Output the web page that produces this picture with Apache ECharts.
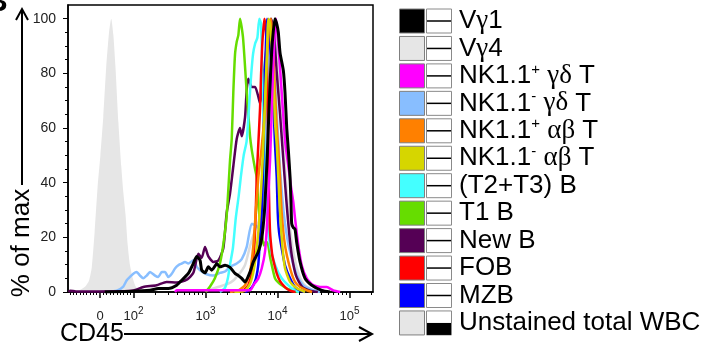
<!DOCTYPE html>
<html>
<head>
<meta charset="utf-8">
<script src="https://cdn.jsdelivr.net/npm/echarts@6/dist/echarts.min.js"></script>
<style>
html,body{margin:0;padding:0;background:#fff;}
#chart{width:705px;height:348px;}
</style>
</head>
<body>
<div id="chart"></div>
<script>
// ---- Data (x in displayed biexponential decade units: 2 = 10^2, 3 = 10^3 ...; y = % of max) ----
const seriesNames = ['Vγ1','Vγ4','NK1.1+ γδ T','NK1.1- γδ T','NK1.1+ αβ T','NK1.1- αβ T','(T2+T3) B','T1 B','New B','FOB','MZB','Unstained total WBC'];
const seriesColors = ['#000000','#dcdcdc','#ff00ff','#88beff','#ff8000','#d6d600','#44ffff','#66dd00','#550055','#ff0000','#0000ff','#e6e6e6'];
const legendLabels = ['V{g|γ}1','V{g|γ}4','NK1.1{sup|+} {g|γδ} T','NK1.1{sup|-} {g|γδ} T','NK1.1{sup|+} {g|αβ} T','NK1.1{sup|-} {g|αβ} T','(T2+T3) B','T1 B','New B','FOB','MZB','Unstained total WBC'];

const xTickValues = [1.535, 2, 3, 4, 5];
const xTickLabels = ['0', '10{s|2}', '10{s|3}', '10{s|4}', '10{s|5}'];
const yTickValues = [0, 20, 40, 60, 80, 100];

const dataVg1 = [[1.60,0],[1.95,0.2],[2.229,0.6],[2.344,1.3],[2.483,1.3],[2.60,2.5],[2.669,4.3],[2.761,6.8],[2.831,10.5],[2.878,13],[2.924,11.6],[2.947,8],[2.993,7],[3.039,9.2],[3.086,8],[3.132,9.5],[3.156,10.4],[3.201,9.2],[3.271,9.8],[3.34,9],[3.41,6.8],[3.456,6],[3.503,5],[3.549,3.7],[3.618,7.3],[3.664,11],[3.733,14.7],[3.781,19.7],[3.817,29],[3.84,40],[3.86,52],[3.875,62],[3.896,76],[3.919,88],[3.94,95],[3.965,100],[3.99,98],[4.011,95],[4.035,87.5],[4.081,81],[4.104,73],[4.128,60],[4.150,52],[4.174,42],[4.188,32],[4.197,25],[4.22,23.5],[4.243,23],[4.267,18],[4.313,11],[4.382,5],[4.475,2.5],[4.614,0.6],[4.73,0]];
const dataVg4 = [[3.0,0.5],[3.2,2],[3.35,3.5],[3.45,6],[3.55,10],[3.62,17],[3.68,22],[3.74,26],[3.79,35],[3.84,60],[3.88,85],[3.92,97],[3.96,100],[3.99,92],[4.03,75],[4.08,55],[4.13,36],[4.18,22],[4.23,13],[4.29,7],[4.36,3],[4.45,1.2],[4.58,0]];
const dataNKpGD = [[2.576,0],[2.60,0.6],[3.618,0.6],[3.664,2.5],[3.733,5],[3.781,8.7],[3.826,14.7],[3.850,23],[3.872,35],[3.896,48],[3.924,70],[3.951,90],[3.979,100],[4.007,92],[4.035,82],[4.076,66],[4.11,54],[4.15,46],[4.19,38],[4.219,33],[4.243,27],[4.289,17],[4.336,9.8],[4.406,5],[4.497,2.5],[4.614,1.8],[4.683,1.8],[4.775,0.6],[4.87,0]];
const dataNKnGD = [[1.628,0],[1.767,0.5],[1.858,2],[1.906,4.3],[1.951,5.5],[1.997,6.7],[2.044,7.3],[2.090,6],[2.136,5],[2.183,6],[2.229,7.3],[2.299,6],[2.344,5.5],[2.392,7.3],[2.4375,7.3],[2.483,5.5],[2.531,6.7],[2.576,8.6],[2.622,9.8],[2.669,10.4],[2.715,11],[2.761,10.4],[2.831,11.6],[2.878,9.2],[2.924,8],[3.017,6.5],[3.108,6],[3.201,7],[3.271,7.5],[3.34,9.2],[3.433,10.4],[3.503,12],[3.572,16.5],[3.642,25],[3.711,24],[3.757,23],[3.798,35],[3.84,60],[3.872,85],[3.896,100],[3.938,90],[3.979,70],[4.035,45],[4.09,28],[4.146,18],[4.201,12],[4.271,6],[4.354,2.5],[4.479,0.8],[4.59,0]];
const dataNKpAB = [[3.34,0],[3.456,0.6],[3.549,2.5],[3.618,7.3],[3.664,17],[3.697,29],[3.733,41.7],[3.78,53],[3.826,67],[3.854,85],[3.882,97],[3.910,100],[3.938,90],[3.965,73],[3.989,60.5],[4.011,52],[4.035,41.7],[4.058,29],[4.104,17],[4.174,8.7],[4.243,3.7],[4.313,1.8],[4.406,0.6],[4.48,0]];
const dataNKnAB = [[3.40,0],[3.549,0.5],[3.618,3],[3.67,8],[3.71,16],[3.743,25],[3.781,42],[3.803,54],[3.826,70],[3.85,85],[3.872,100],[3.896,98],[3.924,88],[3.942,79],[3.965,62],[3.989,54],[4.011,42],[4.035,29],[4.067,17],[4.104,8.7],[4.174,3.7],[4.267,1.4],[4.382,0]];
const dataT2T3B = [[3.20,0],[3.27,1.5],[3.31,5],[3.34,10],[3.38,16],[3.42,27],[3.46,35],[3.49,42],[3.53,50],[3.57,55],[3.60,66],[3.63,78],[3.66,87],[3.69,91],[3.72,93],[3.747,100],[3.771,98],[3.789,80],[3.803,66],[3.817,52],[3.826,42],[3.85,29],[3.896,17],[3.965,10],[4.058,5],[4.197,1.4],[4.30,0]];
const dataT1B = [[3.00,0],[3.063,2],[3.13,5],[3.201,10.5],[3.25,18],[3.294,28],[3.34,48],[3.364,56],[3.386,73],[3.41,87],[3.433,91.5],[3.456,94],[3.479,100],[3.521,93],[3.572,73],[3.618,57],[3.642,52],[3.688,45],[3.711,42],[3.733,32],[3.76,25],[3.781,21],[3.81,17],[3.84,18.5],[3.868,17.5],[3.895,13],[3.919,10],[3.965,5],[4.01,3.5],[4.058,2.5],[4.13,1.2],[4.197,0.6],[4.28,0]];
const dataNewB = [[1.10,0],[1.118,0.5],[1.20,0.2],[1.81,0.3],[2.00,0.6],[2.136,1.8],[2.32,2.5],[2.46,3.7],[2.60,3.5],[2.74,4.5],[2.831,7],[2.90,14],[2.947,12.5],[2.993,16.5],[3.039,13],[3.108,11],[3.178,11.5],[3.247,16],[3.294,29],[3.34,36],[3.386,46],[3.433,56],[3.479,60],[3.503,57],[3.549,64],[3.572,74],[3.594,78],[3.642,75],[3.688,75],[3.733,71.5],[3.757,69],[3.79,75],[3.83,85],[3.87,95],[3.91,100],[3.95,95],[3.99,80],[4.035,65],[4.076,50],[4.118,35],[4.16,22],[4.20,13],[4.257,6],[4.34,2],[4.45,0.5],[4.56,0]];
const dataFOB = [[3.50,0],[3.525,0.6],[3.594,2.5],[3.642,7.3],[3.678,17],[3.697,29],[3.711,41.7],[3.733,54],[3.757,67],[3.771,79],[3.789,91],[3.817,100],[3.84,95],[3.854,82],[3.868,60],[3.88,38],[3.896,22],[3.924,14],[3.942,11.6],[3.989,6.8],[4.035,4],[4.104,1.8],[4.174,0.5],[4.25,0]];
const dataMZB = [[3.549,0],[3.618,1],[3.664,2.5],[3.701,5],[3.733,10],[3.757,20],[3.781,30],[3.799,45],[3.817,70],[3.833,85],[3.854,100],[3.882,95],[3.910,85],[3.938,72],[3.965,54],[3.989,42],[4.003,29],[4.021,22],[4.058,16],[4.104,9.8],[4.174,5],[4.243,1.8],[4.313,0.6],[4.382,0]];
const dataUnstained = [[1.20,0],[1.26,0.8],[1.33,2],[1.38,4],[1.42,9],[1.46,22],[1.50,38],[1.54,50],[1.58,64],[1.62,82],[1.66,95],[1.69,100],[1.72,94],[1.75,82],[1.79,62],[1.83,46],[1.86,36],[1.89,28],[1.92,17],[1.95,10],[1.99,5],[2.03,2],[2.08,0.5],[2.12,0]];

const seriesData = [dataVg1, dataVg4, dataNKpGD, dataNKnGD, dataNKpAB, dataNKnAB, dataT2T3B, dataT1B, dataNewB, dataFOB, dataMZB, dataUnstained];
// drawing order (bottom -> top), by index into the arrays above
const drawOrder = [11, 1, 3, 8, 7, 6, 9, 10, 4, 5, 2, 0];

// ---- axis decoration (minor tick positions) ----
const xMinor = [];
for (let k = 1; k <= 9; k++) { xMinor.push(1.535 - 0.0465 * k); xMinor.push(1.535 + 0.0465 * k); }
for (let d = 2; d <= 5; d++) { for (let k = 2; k <= 9; k++) { const v = d + Math.log10(k); if (v < 5.32) xMinor.push(v); } }
const yMinor = [];
for (let v = 5; v < 100; v += 5) { if (v % 20 !== 0) yMinor.push(v); }

const FONT = "'Liberation Sans', Arial, Helvetica, sans-serif";
const SERIF = "'Liberation Serif', 'DejaVu Serif', serif";

const chart = echarts.init(document.getElementById('chart'), null, {renderer: 'canvas'});

const series = drawOrder.map(function (i) {
  const isUnst = i === 11;
  return {
    name: seriesNames[i],
    type: 'line',
    data: seriesData[i],
    xAxisIndex: 0, yAxisIndex: 0,
    showSymbol: false, symbol: 'none',
    smooth: 0.2,
    silent: true,
    lineStyle: {color: seriesColors[i], width: isUnst ? 0 : (i === 0 ? 3 : 2.5), join: 'round'},
    areaStyle: isUnst ? {color: seriesColors[i], opacity: 1} : undefined,
    z: 2
  };
});

// ---- legend graphics ----
const legendChildren = [];
const rowY0 = 21, rowPitch = 27.45;
for (let i = 0; i < seriesNames.length; i++) {
  const cy = rowY0 + rowPitch * i;
  legendChildren.push({type: 'rect', shape: {x: 399.5, y: cy - 12, width: 25, height: 24}, style: {fill: seriesColors[i] === '#dcdcdc' ? '#e6e6e6' : seriesColors[i], stroke: '#7f7f7f', lineWidth: 1}});
  legendChildren.push({type: 'rect', shape: {x: 426.5, y: cy - 12, width: 25, height: 24}, style: {fill: '#fff', stroke: '#8a8a8a', lineWidth: 1}});
  if (i === 11) {
    legendChildren.push({type: 'rect', shape: {x: 427, y: cy, width: 24, height: 12}, style: {fill: '#000'}});
  } else {
    legendChildren.push({type: 'line', shape: {x1: 427, y1: cy, x2: 451, y2: cy}, style: {stroke: '#000', lineWidth: 1.5}});
  }
  legendChildren.push({
    type: 'text', x: 459, y: cy,
    style: {
      text: legendLabels[i], fill: '#000', fontSize: 26, fontFamily: FONT, lineHeight: 28,
      align: 'left', verticalAlign: 'middle',
      rich: {
        g: {fontFamily: SERIF, fontSize: 27, lineHeight: 28, fill: '#000'},
        sup: {fontFamily: FONT, fontSize: 15, verticalAlign: 'top', fill: '#000'}
      }
    }
  });
}

const option = {
  animation: false,
  backgroundColor: '#fff',
  grid: {left: 68, right: 332, top: 5, bottom: 56, show: true, borderColor: '#000', borderWidth: 1.5, backgroundColor: 'transparent'},
  xAxis: [
    {
      type: 'value', min: 1.09, max: 5.326, position: 'bottom',
      axisLine: {show: true, onZero: false, lineStyle: {color: '#000', width: 1.5}},
      axisTick: {show: true, customValues: xTickValues, length: 6, lineStyle: {color: '#000', width: 1.5}},
      axisLabel: {
        show: true, customValues: xTickValues, margin: 14, color: '#222', fontFamily: FONT, fontSize: 13,
        formatter: function (v) {
          let best = 0;
          for (let k = 0; k < xTickValues.length; k++) { if (Math.abs(xTickValues[k] - v) < Math.abs(xTickValues[best] - v)) best = k; }
          return xTickLabels[best].indexOf('{') >= 0 ? '{b|' + xTickLabels[best].replace('{s|', '}{s|') : '{b|' + xTickLabels[best] + '}';
        },
        rich: {
          b: {fontSize: 13, lineHeight: 20, fontFamily: FONT, color: '#222'},
          s: {fontSize: 10, verticalAlign: 'top', fontFamily: FONT, color: '#222'}
        }
      },
      splitLine: {show: false}
    },
    {
      type: 'value', min: 1.09, max: 5.326, position: 'bottom',
      axisLine: {show: false, onZero: false},
      axisTick: {show: true, customValues: xMinor, length: 3, lineStyle: {color: '#000', width: 1}},
      axisLabel: {show: false},
      splitLine: {show: false}
    }
  ],
  yAxis: [
    {
      type: 'value', min: 0, max: 105, position: 'left',
      axisLine: {show: true, onZero: false, lineStyle: {color: '#000', width: 1.5}},
      axisTick: {show: true, customValues: yTickValues, length: 5, lineStyle: {color: '#000', width: 1}},
      axisLabel: {show: true, customValues: yTickValues, margin: 12, color: '#222', fontFamily: FONT, fontSize: 14},
      splitLine: {show: false}
    },
    {
      type: 'value', min: 0, max: 105, position: 'left',
      axisLine: {show: false, onZero: false},
      axisTick: {show: true, customValues: yMinor, length: 3, lineStyle: {color: '#000', width: 1}},
      axisLabel: {show: false},
      splitLine: {show: false}
    }
  ],
  series: series,
  graphic: [
    {type: 'group', children: legendChildren},
    // panel letter (cut at the edge, as in the figure)
    {type: 'text', x: -14, y: 3, style: {text: 'B', fontSize: 30, fontWeight: 'bold', fontFamily: FONT, fill: '#000', align: 'left', verticalAlign: 'middle'}},
    // y axis title + arrow
    {type: 'text', x: 22, y: 243, rotation: Math.PI / 2, style: {text: '% of max', fontSize: 26, fontFamily: FONT, fill: '#000', align: 'center', verticalAlign: 'middle'}},
    {type: 'line', shape: {x1: 22, y1: 185, x2: 22, y2: 9}, style: {stroke: '#000', lineWidth: 2}},
    {type: 'polyline', shape: {points: [[16, 20], [22, 9], [28, 20]]}, style: {stroke: '#000', lineWidth: 2, fill: null}},
    // x axis title + arrow
    {type: 'text', x: 60, y: 334, style: {text: 'CD45', fontSize: 25, fontFamily: FONT, fill: '#000', align: 'left', verticalAlign: 'middle'}},
    {type: 'line', shape: {x1: 124, y1: 334, x2: 371, y2: 334}, style: {stroke: '#000', lineWidth: 2}},
    {type: 'polyline', shape: {points: [[359, 327], [372, 334], [359, 341]]}, style: {stroke: '#000', lineWidth: 2, fill: null}}
  ]
};
chart.setOption(option);
</script>
</body>
</html>
